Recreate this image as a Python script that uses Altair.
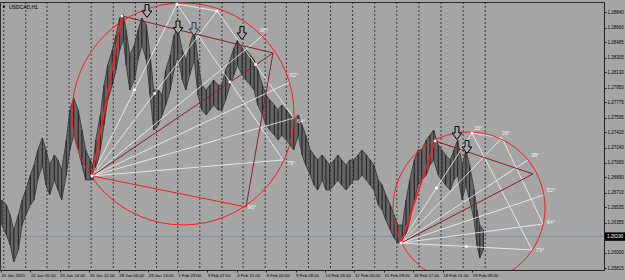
import altair as alt
import pandas as pd

# ---------------- data ----------------
bars = [1, 6, 10, 14, 19, 23, 27, 32, 36, 40,
        45, 49, 53, 58, 62, 66, 71, 75, 79, 84,
        88, 92, 97, 100, 103, 108, 112, 116, 121, 125,
        129, 133, 136, 140, 145, 149, 153, 158, 162, 166,
        171, 175, 179, 184, 188, 192, 197, 201, 205, 210,
        214, 218, 223, 227, 231, 236, 240, 244, 249, 253,
        257, 262, 266, 271, 275, 279, 284, 288, 292, 297,
        301, 305, 310, 314, 318, 323, 327, 331, 336, 340,
        344, 349, 353, 357, 362, 366, 370, 375, 379, 383,
        388, 392, 397, 401, 405, 410, 414, 418, 423, 427,
        431, 436, 440, 444, 449, 453, 457, 462, 466, 470,
        475, 479, 483, 488, 492, 496, 501, 505, 509, 514,
        517, 520, 524]
highs = [1.26622, 1.26563, 1.26445, 1.26268, 1.26445, 1.26622, 1.26741, 1.26918, 1.27036, 1.27213,
         1.27355, 1.27213, 1.27036, 1.27154, 1.27095, 1.26977, 1.27331, 1.27686, 1.27828, 1.27686,
         1.27449, 1.27213, 1.27095, 1.27036, 1.27331, 1.27627, 1.27981, 1.28218, 1.28395, 1.28572,
         1.28773, 1.28820, 1.28631, 1.28336, 1.28454, 1.28631, 1.28773, 1.28690, 1.28336, 1.27922,
         1.27922, 1.27863, 1.28158, 1.28336, 1.28572, 1.28655, 1.28395, 1.28277, 1.28454, 1.28631,
         1.28277, 1.27981, 1.27922, 1.27981, 1.28040, 1.27981, 1.27981, 1.28158, 1.28277, 1.28418,
         1.28513, 1.28454, 1.28395, 1.28336, 1.28277, 1.28158, 1.27981, 1.27863, 1.27804, 1.27745,
         1.27686, 1.27745, 1.27686, 1.27627, 1.27568, 1.27627, 1.27509, 1.27390, 1.27213, 1.27154,
         1.27095, 1.27154, 1.27095, 1.27036, 1.27095, 1.27154, 1.27095, 1.27036, 1.27095, 1.27095,
         1.27154, 1.27213, 1.27154, 1.27095, 1.27036, 1.26859, 1.26800, 1.26681, 1.26563, 1.26445,
         1.26327, 1.26327, 1.26622, 1.26859, 1.27095, 1.27213, 1.27213, 1.27331, 1.27390, 1.27449,
         1.27272, 1.27213, 1.27154, 1.27095, 1.27213, 1.27331, 1.27036, 1.27213, 1.27036, 1.26741,
         1.26504, 1.26327, 1.26268]
lows = [1.26327, 1.26209, 1.26091, 1.25890, 1.26032, 1.26327, 1.26445, 1.26563, 1.26622, 1.26859,
        1.27036, 1.26800, 1.26681, 1.26859, 1.26741, 1.26622, 1.26918, 1.27213, 1.27390, 1.27213,
        1.27036, 1.26859, 1.26859, 1.26859, 1.26977, 1.27213, 1.27509, 1.27804, 1.27981, 1.28158,
        1.28395, 1.28513, 1.28218, 1.27922, 1.28040, 1.28277, 1.28454, 1.28277, 1.27863, 1.27449,
        1.27509, 1.27627, 1.27745, 1.27922, 1.28158, 1.28336, 1.28040, 1.27922, 1.28099, 1.28277,
        1.27863, 1.27686, 1.27627, 1.27686, 1.27745, 1.27686, 1.27686, 1.27804, 1.27981, 1.28099,
        1.28218, 1.28099, 1.28040, 1.27981, 1.27922, 1.27745, 1.27627, 1.27509, 1.27449, 1.27390,
        1.27331, 1.27390, 1.27331, 1.27272, 1.27213, 1.27390, 1.27154, 1.27036, 1.26918, 1.26800,
        1.26741, 1.26859, 1.26741, 1.26741, 1.26800, 1.26859, 1.26800, 1.26741, 1.26800, 1.26859,
        1.26859, 1.26918, 1.26859, 1.26800, 1.26741, 1.26563, 1.26504, 1.26386, 1.26268, 1.26173,
        1.26114, 1.26114, 1.26209, 1.26386, 1.26622, 1.26800, 1.26859, 1.26918, 1.27036, 1.27095,
        1.26918, 1.26859, 1.26800, 1.26741, 1.26859, 1.26918, 1.26622, 1.26800, 1.26622, 1.26386,
        1.26091, 1.25937, 1.26032]
assert len(bars) == len(highs) == len(lows)

x_label_bars = list(range(0, 513, 32))
x_label_text = ["20 Jan 2021", "22 Jan 05:00", "25 Jan 14:00", "26 Jan 22:00", "28 Jan 06:00",
                "29 Jan 14:00", "1 Feb 23:00", "3 Feb 07:00", "4 Feb 15:00", "8 Feb 00:00",
                "9 Feb 08:00", "10 Feb 16:00", "12 Feb 00:00", "15 Feb 09:00", "16 Feb 17:00",
                "18 Feb 01:00", "19 Feb 09:00"]
y_ticks = [1.28840, 1.28660, 1.28485, 1.28305, 1.28130, 1.27950, 1.27775, 1.27595, 1.27420,
           1.27240, 1.27065, 1.26890, 1.26710, 1.26535, 1.26355, 1.26000, 1.25815]
grid_bars = [3, 27, 50, 74, 98, 122, 146, 169, 192, 216, 240, 263, 287, 310, 334, 358,
             382, 406, 430, 454, 478, 502, 526]
current_price = 1.26190
symbol_title = "USDCAD,H1"

# annotation anchor points (bar index, price)
pts = {
    "O1": (99.0, 1.26906), "P1": (131.5, 1.28797), "A1": (191.2, 1.28938), "B1": (234.7, 1.28856),
    "L38": (283.6, 1.28560), "R1": (295.5, 1.28359), "L52": (314.0, 1.28017), "L64": (318.3, 1.27591),
    "L75": (306.4, 1.27095), "L90": (266.2, 1.26540),
    "O2": (434.5, 1.26114), "P2": (471.5, 1.27320), "T2": (511.6, 1.27414), "Q26": (544.2, 1.27355),
    "Q38": (572.5, 1.27095), "R2": (577.9, 1.26930), "Q52": (589.8, 1.26682), "Q64": (588.8, 1.26339),
    "Q75": (576.8, 1.26032),
}
white_pairs = [("O1", "A1"), ("O1", "B1"), ("O1", "L38"), ("O1", "L52"), ("O1", "L64"), ("O1", "L75"),
               ("A1", "B1"), ("A1", "L75"), ("B1", "L64"),
               ("O2", "T2"), ("O2", "Q26"), ("O2", "Q38"), ("O2", "Q52"), ("O2", "Q64"), ("O2", "Q75"),
               ("T2", "Q26"), ("T2", "Q75"), ("Q26", "Q64")]
red_thick_pairs = [("O1", "P1"), ("O2", "P2")]
red_pairs = [("O1", "L90")]
darkred_pairs = [("P1", "R1"), ("O1", "R1"), ("R1", "L90"), ("P2", "R2"), ("O2", "R2")]
mid_dot_pairs = [("O1", "A1"), ("O1", "B1"), ("A1", "L75"), ("B1", "L64"), ("O2", "T2"), ("O2", "Q75")]
anchor_dots = ["O1", "P1", "A1", "B1", "O2", "P2", "T2"]

circle_centers = [(197.8, 1.27639), (508.4, 1.26528)]
circle_radius_px = [111, 76]

arrow_bar = [158.7, 192.3, 209.7, 261.8, 495.3, 506.2]
arrow_price = [1.28856, 1.28661, 1.28643, 1.28596, 1.27414, 1.27249]
arrow_kind = ["k", "k", "b", "k", "k", "k"]

deg_text = ["38°", "52°", "64°", "75°", "90°", "15°", "26°", "38°", "52°", "64°", "75°"]
deg_bar = [285.7, 318.3, 325.9, 315.1, 272.7, 518.2, 548.6, 580.1, 597.4, 597.4, 585.5]
deg_price = [1.28631, 1.28099, 1.27556, 1.27060, 1.26540, 1.27473, 1.27414, 1.27154, 1.26741, 1.26362, 1.26032]

# ---------------- styling ----------------
BG = "#a5a5a5"
PRICE = "#4a4a4a"
RED = "#ff1e1e"
WHITE = "#f2f2f2"
DARKRED = "#8e1f1f"
FONT = "Liberation Sans"

xs = alt.Scale(domain=[-1, 655], nice=False, zero=False)
ys = alt.Scale(domain=[1.25795, 1.28962], nice=False, zero=False)
label_expr = "[" + ",".join("'%s'" % t for t in x_label_text) + "][round(datum.value/32)]"
xaxis = alt.Axis(values=x_label_bars, labelExpr=label_expr, title=None, grid=False,
                 labelAlign="left", labelFontSize=4.3, labelPadding=1, tickSize=2,
                 labelColor="#000000", domainColor="#222222", tickColor="#222222",
                 labelFont=FONT, labelOverlap=False, labelFlush=False, labelBound=False)
yaxis = alt.Axis(orient="right", values=y_ticks, format=".5f", title=None, grid=False,
                 labelFontSize=4.5, labelPadding=1, tickSize=2, labelColor="#000000",
                 domainColor="#222222", tickColor="#222222", labelFont=FONT,
                 labelOverlap=False, labelFlush=False, labelBound=False)


def X(f):
    return alt.X(f, type="quantitative", scale=xs, axis=xaxis)


def Y(f):
    return alt.Y(f, type="quantitative", scale=ys, axis=yaxis)


def seg_df(pairs):
    return pd.DataFrame({
        "x1": [pts[a][0] for a, b in pairs], "y1": [pts[a][1] for a, b in pairs],
        "x2": [pts[b][0] for a, b in pairs], "y2": [pts[b][1] for a, b in pairs],
    })


def seg_layer(pairs, color, width):
    return alt.Chart(seg_df(pairs)).mark_rule(color=color, strokeWidth=width, clip=True).encode(
        x=X("x1"), y=Y("y1"), x2="x2", y2="y2")


price_df = pd.DataFrame({"bar": bars, "high": highs, "low": lows})

grid = alt.Chart(pd.DataFrame({"bar": grid_bars})).mark_rule(
    color="#1c1c1c", strokeDash=[2, 2], strokeWidth=0.8).encode(x=X("bar"))
cur_line = alt.Chart(pd.DataFrame({"price": [current_price]})).mark_rule(
    color="#7f93a6", strokeWidth=1).encode(y=Y("price"))
price_area = alt.Chart(price_df).mark_area(color=PRICE, opacity=0.7, clip=True).encode(
    x=X("bar"), y=Y("low"), y2="high")
price_rules = alt.Chart(price_df).mark_rule(color="#2c2c2c", strokeWidth=1.2, clip=True).encode(
    x=X("bar"), y=Y("low"), y2="high")
price_hi = alt.Chart(price_df).mark_line(color="#333333", strokeWidth=0.8, clip=True).encode(
    x=X("bar"), y=Y("high"))
price_lo = alt.Chart(price_df).mark_line(color="#333333", strokeWidth=0.8, clip=True).encode(
    x=X("bar"), y=Y("low"))

circ_layers = []
for (cb, cp), r in zip(circle_centers, circle_radius_px):
    circ_layers.append(alt.Chart(pd.DataFrame({"bar": [cb], "price": [cp]})).mark_point(
        shape="circle", size=(2 * r) ** 2, filled=False, color=RED, strokeWidth=1,
        opacity=1, clip=True).encode(x=X("bar"), y=Y("price")))

mid_df = pd.DataFrame({
    "bar": [(pts[a][0] + pts[b][0]) / 2 for a, b in mid_dot_pairs] + [pts[k][0] for k in anchor_dots],
    "price": [(pts[a][1] + pts[b][1]) / 2 for a, b in mid_dot_pairs] + [pts[k][1] for k in anchor_dots],
})
dots = alt.Chart(mid_df).mark_point(shape="square", size=7, filled=True, color="#ffffff",
                                    opacity=1, clip=True).encode(x=X("bar"), y=Y("price"))

ARROW = "M-0.3,-1L0.3,-1L0.3,0L0.75,0L0,1L-0.75,0L-0.3,0Z"
arrow_df = pd.DataFrame({"bar": arrow_bar, "price": arrow_price, "kind": arrow_kind})
arrows = alt.Chart(arrow_df).mark_point(shape=ARROW, size=169, filled=True, fill=BG,
                                        strokeWidth=1, opacity=1, clip=True).encode(
    x=X("bar"), y=Y("price"),
    stroke=alt.Stroke("kind:N", scale=alt.Scale(domain=["k", "b"], range=["#000000", "#1f3f66"]),
                      legend=None))

deg_df = pd.DataFrame({"bar": deg_bar, "price": deg_price, "t": deg_text})
deg_labels = alt.Chart(deg_df).mark_text(fontSize=5.5, color=WHITE, font=FONT, align="center",
                                         baseline="middle", clip=True).encode(
    x=X("bar"), y=Y("price"), text="t:N")

cur_box = alt.Chart(pd.DataFrame({"price": [current_price]})).mark_point(
    shape="M-1,-0.42L1,-0.42L1,0.42L-1,0.42Z", size=400, filled=True, color="#000000",
    opacity=1).encode(x=alt.value(615), y=Y("price"))
cur_text = alt.Chart(pd.DataFrame({"price": [current_price]})).mark_text(
    fontSize=4.5, color="#ffffff", font=FONT, align="left", baseline="middle").encode(
    x=alt.value(607), y=Y("price"), text=alt.Text("price:Q", format=".5f"))

title_tri = alt.Chart(pd.DataFrame({"t": [symbol_title]})).mark_point(
    shape="triangle-down", size=10, filled=True, color="#000000", opacity=1).encode(
    x=alt.value(4), y=alt.value(5))
title_txt = alt.Chart(pd.DataFrame({"t": [symbol_title]})).mark_text(
    fontSize=5, color="#000000", font=FONT, align="left", baseline="middle").encode(
    x=alt.value(9), y=alt.value(5), text="t:N")

chart = alt.layer(
    grid, cur_line, price_area, price_rules, price_hi, price_lo,
    seg_layer(white_pairs, WHITE, 0.8),
    seg_layer(darkred_pairs, DARKRED, 1),
    seg_layer(red_pairs, RED, 1),
    seg_layer(red_thick_pairs, RED, 1.6),
    *circ_layers, dots, arrows, deg_labels, cur_box, cur_text, title_tri, title_txt,
).properties(
    width=604, height=268,
    padding={"left": 0, "top": 2, "right": 21, "bottom": 10},
    autosize=alt.AutoSizeParams(type="none"),
).configure(background=BG).configure_view(stroke="#303030", strokeWidth=1)

chart.save("out.html", embed_options={"renderer": "svg", "actions": False})
